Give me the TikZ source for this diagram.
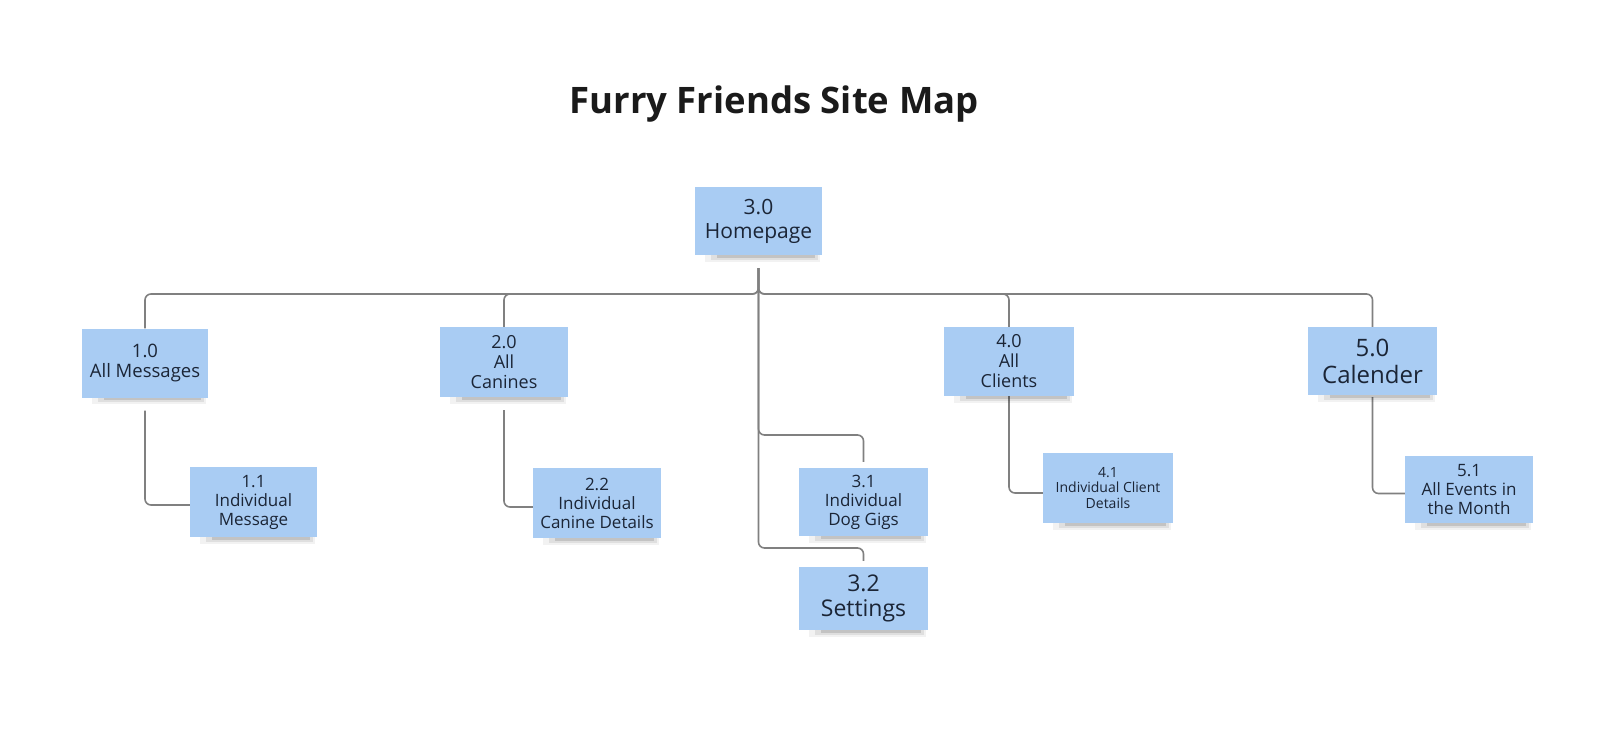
\documentclass[tikz,border=0pt]{standalone}
\usepackage{fontspec}
\setmainfont{Open Sans}
\usetikzlibrary{backgrounds}
\definecolor{notefill}{HTML}{A9CCF3}
\definecolor{notetext}{HTML}{1B2536}
\definecolor{wire}{HTML}{808080}
\definecolor{titleink}{HTML}{1A1A1A}
\begin{document}
\begin{tikzpicture}[x=1pt,y=-1pt,
  note/.style 2 args={fill=notefill, text=notetext, align=center, inner sep=0pt,
    minimum width=#1pt, minimum height=#2pt},
  link/.style={draw=wire, line width=1.6pt, rounded corners=6pt},
  shadeA/.style={fill=black, opacity=0.05},
  shadeB/.style={fill=black, opacity=0.08},
  shadeC/.style={fill=black, opacity=0.12}]
\useasboundingbox (0,0) rectangle (1600,741);

% title
\node[font=\fontsize{36.5}{42}\selectfont\bfseries, text=titleink] (title) at (774,104) {Furry Friends Site Map};

% sticky notes
\node[note={127}{68}, font=\fontsize{21}{24}\selectfont] (h30) at (758.5,221) {3.0\\Homepage};
\node[note={126}{69}, font=\fontsize{18.5}{20}\selectfont] (n10) at (145,363) {1.0\\All Messages};
\node[note={127}{70}, font=\fontsize{17}{19}\selectfont] (n11) at (253.5,502) {1.1\\Individual\\Message};
\node[note={128}{70}, font=\fontsize{18}{20}\selectfont] (n20) at (504,362) {2.0\\All\\Canines};
\node[note={128}{70}, font=\fontsize{17}{19}\selectfont] (n22) at (597,503) {2.2\\Individual\\Canine Details};
\node[note={129}{68}, font=\fontsize{17}{19}\selectfont] (n31) at (863.5,502) {3.1\\Individual\\Dog Gigs};
\node[note={129}{63}, font=\fontsize{23}{25}\selectfont] (n32) at (863.5,598.5) {3.2\\Settings};
\node[note={130}{69}, font=\fontsize{18}{20}\selectfont] (n40) at (1009,361.5) {4.0\\All\\Clients};
\node[note={130}{70}, font=\fontsize{14}{15.5}\selectfont] (n41) at (1108,488) {4.1\\Individual Client\\Details};
\node[note={129}{68}, font=\fontsize{24}{27}\selectfont] (n50) at (1372.5,361) {5.0\\Calender};
\node[note={128}{67}, font=\fontsize{17}{19}\selectfont] (n51) at (1469,489.5) {5.1\\All Events in\\the Month};

% bus and trunk points
\coordinate (top) at ([yshift=-13pt]h30.south);
\coordinate (bus) at (h30.south |- 0,294);
\coordinate (j31) at (h30.south |- 0,435);
\coordinate (j32) at (h30.south |- 0,548);

\begin{scope}[on background layer]
  \fill[white] (0,0) rectangle (1600,741);
  % connectors
  \draw[link] (top) -- (bus) -| (n10.north);
  \draw[link] (top) -- (bus) -| (n20.north);
  \draw[link] (top) -- (bus) -| (n40.north);
  \draw[link] (top) -- (bus) -| (n50.north);
  \draw[link] (top) -- (j31) -| ([yshift=6pt]n31.north);
  \draw[link] (top) -- (j32) -| ([yshift=6pt]n32.north);
  \draw[link] ([yshift=-13pt]n10.south) |- ([yshift=-3pt]n11.west);
  \draw[link] ([yshift=-13pt]n20.south) |- ([yshift=-4pt]n22.west);
  \draw[link] (n40.south) |- ([yshift=-5pt]n41.west);
  \draw[link] ([yshift=-2pt]n50.south) |- ([yshift=-4pt]n51.west);
  % soft shadows under the notes
  \foreach \n in {h30,n10,n11,n20,n22,n31,n32,n40,n41,n50,n51} {
    \fill[shadeA] ([xshift=10pt]\n.south west) rectangle ([xshift=-2pt,yshift=-6.5pt]\n.south east);
    \fill[shadeB] ([xshift=16pt]\n.south west) rectangle ([xshift=-4pt,yshift=-4.5pt]\n.south east);
    \fill[shadeC] ([xshift=22pt]\n.south west) rectangle ([xshift=-7pt,yshift=-2.5pt]\n.south east);
  }
\end{scope}
\end{tikzpicture}
\end{document}
